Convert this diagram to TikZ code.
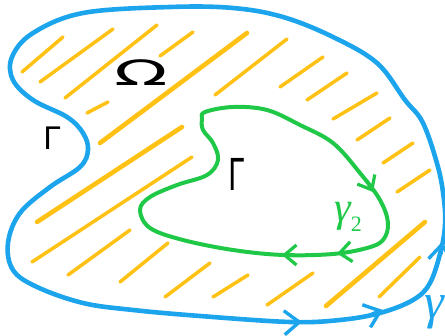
\documentclass[tikz,border=0pt]{standalone}
\usepackage{xcolor}
\usepackage{fontspec}
\usepackage{tikz}
\usetikzlibrary{arrows.meta}
\newfontfamily\greekhand{DejaVu Sans}
\newfontfamily\greekloop{Liberation Serif}
\definecolor{bdryblue}{RGB}{28,165,236}
\definecolor{loopgreen}{RGB}{32,200,72}
\definecolor{hatchgold}{RGB}{255,194,20}
\tikzset{
  outerloop/.style={draw=bdryblue, line width=4.6pt, line cap=round, line join=round},
  innerloop/.style={draw=loopgreen, line width=4pt, line cap=round, line join=round},
  hatch/.style={draw=hatchgold, line width=3.5pt, line cap=round},
  hatchbold/.style={hatch, line width=4.6pt},
  bluetip/.style={outerloop, line width=3.4pt, -{Straight Barb[length=15pt, width=24pt]}},
  greentip/.style={innerloop, line width=3.2pt, -{Straight Barb[length=12pt, width=20pt]}},
  ink/.style={inner sep=0pt, font=\greekhand},
}

\begin{document}
\begin{tikzpicture}[x=1pt, y=-1pt]
  \useasboundingbox (0,0) rectangle (445,336);

  % --- Hatching of the region ---
  \foreach \xa/\ya/\xb/\yb in {22/72/63/37, 40/82/113/29, 65/98/157/25, 160/56/193/32,
      87/113/108/102, 215/95/287/39, 280/87/323/57, 307/100/347/73, 333/119/377/93,
      357/140/390/118, 383/163/413/143, 397/192/430/170, 32/262/192/157, 68/275/130/230,
      120/282/168/243, 165/297/210/263, 213/297/248/275, 267/305/313/273, 379/297/420/257}
    \draw[hatch] (\xa,\ya) -- (\xb,\yb);
  \foreach \xa/\ya/\xb/\yb in {100/143/247/33, 37/222/182/127, 326/306/425/222}
    \draw[hatchbold] (\xa,\ya) -- (\xb,\yb);

  % --- Outer boundary ---
  \draw[outerloop] plot[smooth cycle, tension=0.6] coordinates {
    (12,57) (33,33) (83,13) (170,7) (233,8) (283,17) (333,37) (377,63) (405,100)
    (423,123) (438,167) (444,200) (445,225) (441,250) (430,283) (413,300) (380,313)
    (340,320) (290,322) (200,316) (133,310) (83,303) (37,287) (13,270) (8,243)
    (20,213) (50,187) (80,167) (88,150) (83,133) (67,117) (33,100) (13,80)};

  % --- Inner curve ---
  \draw[innerloop] plot[smooth cycle, tension=0.6] coordinates {
    (205,112) (233,107) (267,110) (300,125) (333,143) (360,173) (380,200) (388,223)
    (383,240) (367,248) (333,254) (283,255) (233,250) (183,240) (150,228) (140,210)
    (150,197) (177,185) (207,175) (218,160) (213,143) (203,130) (202,119)};

  % --- Orientation marks ---
  \draw[bluetip] (290,322.5) -- (302,322);
  \draw[bluetip] (372,314) -- (383,310);
  \draw[bluetip] (441,254) -- (442,242);
  \draw[greentip] (367,181) -- (373,192);
  \draw[greentip] (349,252) -- (337,253.5);
  \draw[greentip] (294,255) -- (282,255);

  % --- Labels ---
  \node[ink, font=\greekhand\fontsize{35}{35}\selectfont, xscale=2] (omega) at (141,73) {Ω};
  \node[ink, font=\greekhand\fontsize{31}{31}\selectfont] (gammaout) at (52,138) {Γ};
  \node[ink, font=\greekhand\fontsize{44}{44}\selectfont, xscale=0.65] (gammain) at (236,174) {Γ};
  \node[ink, text=loopgreen, font=\greekloop\itshape\fontsize{42}{42}\selectfont] (loopname) at (348,217)
        {γ\raisebox{-10pt}{\upshape\fontsize{22}{22}\selectfont 2}};
  \node[ink, text=bdryblue, font=\greekloop\itshape\fontsize{50}{50}\selectfont] (bdryname) at (434,312) {γ};

\end{tikzpicture}
\end{document}
